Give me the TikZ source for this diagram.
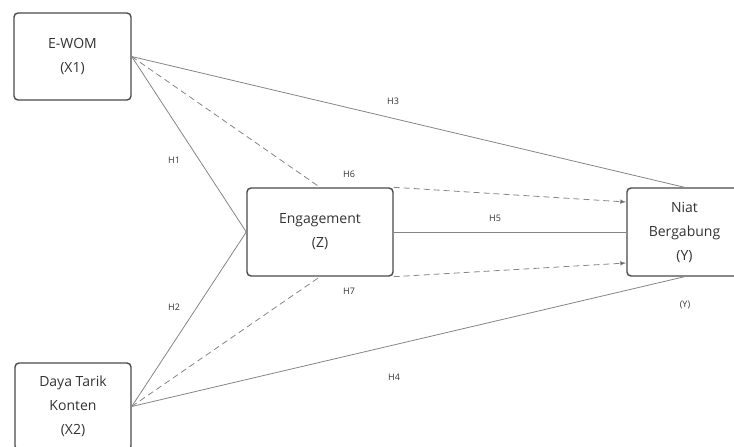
\documentclass[tikz,border=0pt]{standalone}
\usepackage{fontspec}
\setmainfont{Open Sans}
\usetikzlibrary{arrows.meta}
\definecolor{boxline}{HTML}{4A4A4A}
\definecolor{conn}{HTML}{858585}
\definecolor{txt}{HTML}{333333}
\begin{document}
\begin{tikzpicture}[x=1pt,y=-1pt,
  var/.style={draw=boxline, line width=1.4pt, rounded corners=4pt, fill=white,
    align=center, text=txt, inner sep=0pt, font=\fontsize{14}{24}\selectfont},
  link/.style={draw=conn, line width=0.8pt},
  med/.style={link, dash pattern=on 6pt off 4pt},
  tip/.style={-{Latex[length=6pt,width=4.5pt,fill=boxline]}},
  hyp/.style={text=txt, font=\fontsize{9}{10}\selectfont}
]
\useasboundingbox (0,0) rectangle (734,447);

% constructs
\node[var, minimum width=117pt, minimum height=87pt] (x1) at (72.5,56.5) {E-WOM\\(X1)};
\node[var, minimum width=116pt, minimum height=87pt] (x2) at (73,406.5) {Daya Tarik\\Konten\\(X2)};
\node[var, minimum width=146pt, minimum height=88pt] (z) at (320,232) {Engagement\\(Z)};
\node[var, minimum width=115pt, minimum height=88pt] (y) at (684.5,232) {Niat\\Bergabung\\(Y)};

% direct paths
\draw[link] (x1.east) -- (z.west);
\draw[link] (x2.east) -- (z.west);
\draw[link] (x1.east) -- (y.north);
\draw[link] (x2.east) -- (y.south);
\draw[link] (z.east) -- (y.west);

% mediated paths
\coordinate (yup) at ([yshift=30pt]y.west);
\coordinate (ydn) at ([yshift=-31pt]y.west);
\draw[med] (x1.east) -- (z.north);
\draw[med] (x2.east) -- (z.south);
\draw[med, tip] (z.north east) -- (yup);
\draw[med, tip] (z.south east) -- (ydn);

% hypothesis labels
\node[hyp] (h1) at (174,160) {H1};
\node[hyp] (h2) at (174,307) {H2};
\node[hyp] (h3) at (393,101) {H3};
\node[hyp] (h4) at (394,377) {H4};
\node[hyp] (h5) at (495,218) {H5};
\node[hyp] (h6) at (349,174) {H6};
\node[hyp] (h7) at (349,291) {H7};
\node[hyp] (ylab) at (685,305) {(Y)};
\end{tikzpicture}
\end{document}
